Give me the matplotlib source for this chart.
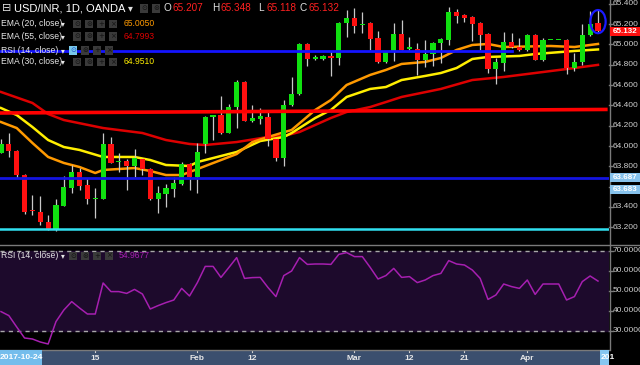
import matplotlib
matplotlib.use("Agg")
import matplotlib.pyplot as plt
from matplotlib.patches import Rectangle, Ellipse
from matplotlib.lines import Line2D
from matplotlib.transforms import blended_transform_factory

plt.rcParams['font.family'] = ['Liberation Sans', 'DejaVu Sans']

# ---------------- data ----------------
opens = [63.93, 64.02, 63.95, 63.71, 63.37, 63.35, 63.25, 63.18, 63.41, 63.59,
         63.74, 63.62, 63.48, 63.48, 64.02, 63.84, 63.85, 63.80, 63.87, 63.77,
         63.48, 63.53, 63.58, 63.63, 63.82, 63.69, 64.02, 64.29, 64.31, 64.13,
         64.38, 64.63, 64.25, 64.27, 64.29, 64.07, 63.88, 64.40, 64.51, 65.00,
         64.86, 64.86, 64.88, 64.87, 65.21, 65.26, 65.19, 65.21, 65.06, 64.83,
         64.93, 65.10, 64.96, 64.96, 64.85, 64.91, 65.01, 65.04, 65.32, 65.29,
         65.27, 65.21, 65.10, 64.76, 64.82, 65.02, 64.98, 64.95, 65.09, 64.85,
         65.04, 65.04, 65.04, 64.77, 64.83, 65.09, 65.207]
highs = [64.07, 64.13, 63.96, 63.72, 63.52, 63.51, 63.32, 63.48, 63.70, 63.81,
         63.78, 63.68, 63.59, 64.13, 64.09, 63.93, 63.87, 63.97, 63.88, 63.78,
         63.61, 63.63, 63.69, 63.84, 63.83, 64.03, 64.30, 64.30, 64.49, 64.41,
         64.65, 64.64, 64.40, 64.37, 64.33, 64.08, 64.45, 64.68, 65.01, 65.01,
         64.90, 64.90, 64.94, 65.22, 65.34, 65.36, 65.32, 65.22, 65.13, 64.94,
         65.21, 65.24, 65.07, 65.01, 65.04, 65.02, 65.06, 65.37, 65.35, 65.30,
         65.28, 65.22, 65.11, 64.87, 65.12, 65.11, 65.06, 65.10, 65.10, 65.06,
         65.045, 65.045, 65.05, 64.92, 65.20, 65.33, 65.348]
lows = [63.93, 63.89, 63.68, 63.33, 63.32, 63.22, 63.17, 63.16, 63.41, 63.54,
        63.57, 63.43, 63.29, 63.48, 63.83, 63.74, 63.57, 63.69, 63.71, 63.47,
        63.34, 63.40, 63.50, 63.62, 63.57, 63.54, 63.93, 64.06, 64.12, 64.13,
        64.18, 64.25, 64.24, 64.22, 64.00, 63.85, 63.80, 64.39, 64.50, 64.79,
        64.85, 64.85, 64.69, 64.80, 65.07, 65.11, 65.11, 64.95, 64.82, 64.82,
        64.84, 64.95, 64.95, 64.70, 64.78, 64.79, 64.82, 64.99, 65.21, 65.22,
        65.03, 64.95, 64.72, 64.61, 64.74, 64.97, 64.94, 64.94, 64.85, 64.84,
        65.04, 65.04, 64.71, 64.74, 64.80, 65.08, 65.118]
closes = [64.02, 63.95, 63.71, 63.35, 63.36, 63.25, 63.18, 63.42, 63.60, 63.74,
          63.61, 63.48, 63.49, 64.02, 63.83, 63.85, 63.80, 63.88, 63.77, 63.48,
          63.54, 63.59, 63.64, 63.82, 63.69, 63.94, 64.29, 64.30, 64.13, 64.38,
          64.63, 64.25, 64.28, 64.30, 64.07, 63.88, 64.40, 64.51, 65.00, 64.86,
          64.87, 64.89, 64.87, 65.21, 65.26, 65.18, 65.20, 65.05, 64.83, 64.93,
          65.10, 64.95, 64.97, 64.85, 64.91, 65.01, 65.05, 65.32, 65.28, 65.26,
          65.20, 65.09, 64.76, 64.83, 65.02, 64.98, 64.95, 65.09, 64.85, 65.04,
          65.045, 65.045, 64.77, 64.83, 65.09, 65.20, 65.132]

ema20_idx = [0, 2, 4, 6, 8, 10, 12, 13, 17, 19, 21, 23, 25, 30, 32, 34, 37, 40,
             42, 44, 47, 49, 51, 54, 56, 58, 60, 62, 64, 70, 73, 76]
ema20_val = [64.236, 64.177, 64.030, 63.892, 63.833, 63.793, 63.734, 63.764,
             63.783, 63.754, 63.714, 63.714, 63.773, 63.921, 64.039, 64.089,
             64.158, 64.355, 64.453, 64.601, 64.700, 64.749, 64.808, 64.828,
             64.867, 64.946, 64.995, 65.005, 64.975, 64.985, 64.975, 65.005]
ema30_idx = [0, 2, 4, 6, 8, 10, 13, 17, 19, 21, 24, 25, 30, 33, 36, 37, 40, 42,
             44, 47, 49, 51, 54, 56, 58, 60, 62, 66, 68, 73, 76]
ema30_val = [64.374, 64.305, 64.187, 64.059, 63.990, 63.961, 63.892, 63.892,
             63.862, 63.813, 63.803, 63.842, 63.941, 64.049, 64.089, 64.128,
             64.276, 64.355, 64.483, 64.562, 64.581, 64.650, 64.690, 64.719,
             64.768, 64.857, 64.877, 64.887, 64.906, 64.936, 64.951]
ema55_idx = [0, 4, 6, 8, 13, 18, 21, 24, 26, 30, 34, 36, 38, 40, 42, 44, 47, 49,
             51, 56, 60, 64, 68, 73, 76]
ema55_val = [64.532, 64.424, 64.315, 64.256, 64.177, 64.128, 64.059, 64.020,
             64.010, 64.039, 64.089, 64.099, 64.138, 64.207, 64.276, 64.335,
             64.384, 64.433, 64.483, 64.562, 64.650, 64.680, 64.719, 64.768,
             64.799]

rsi = [39.7, 37.7, 32.0, 26.5, 26.0, 24.5, 23.5, 34.7, 40.5, 44.7,
       41.5, 38.5, 38.5, 54.0, 49.7, 49.7, 48.8, 50.8, 48.5, 41.0,
       42.7, 44.2, 45.5, 51.3, 47.5, 54.2, 62.3, 62.3, 56.8, 61.7,
       66.7, 56.3, 56.7, 56.8, 51.7, 47.2, 57.7, 60.0, 66.7, 63.3,
       63.5, 63.5, 63.3, 68.3, 69.2, 67.2, 67.2, 61.8, 56.0, 57.7,
       61.3, 56.8, 57.2, 54.2, 55.5, 57.7, 58.8, 65.2, 63.5, 63.0,
       60.5, 56.3, 45.8, 48.0, 53.5, 52.2, 51.3, 55.5, 48.3, 53.5,
       53.5, 53.5, 45.5, 47.2, 54.7, 57.5, 54.97]

blue_top_level = 64.94
blue_top_end = 65.1
red_line_levels = [64.325, 64.36]
blue_level = 63.687
cyan_level = 63.18

price_ticks = [65.4, 65.2, 65.0, 64.8, 64.6, 64.4, 64.2, 64.0, 63.8, 63.6, 63.4, 63.2]
hidden_price_labels = [63.6]   # covered by the line-value boxes in the reference
rsi_ticks = [70, 60, 50, 40, 30]
date_tick_idx = [12, 25, 32, 45, 52, 59, 67]
date_tick_lab = ['15', 'Feb', '12', 'Mar', '12', '21', 'Apr']

legend_vals = ['65.0050', '64.7993', '64.9510']
rsi_last = '54.9677'

# ---------------- styling ----------------
GREEN = '#10e010'
RED = '#ff1010'
WICK = '#c8c8c8'
ORANGE = '#ff9900'
YELLOW = '#ffee00'
EMA_RED = '#dd0000'
LABEL = '#cfcfcf'
AXGRAY = '#7a7a7a'
RSI_FILL = '#1d0a2c'
RSI_LINE = '#a61fb0'

W, H = 640, 365
fig = plt.figure(figsize=(6.4, 3.65), dpi=100, facecolor='black')


def fx(px):
    return px / W


def fy(py):
    return 1 - py / H


PANE_R = 609
XL = (-1 / 7.855, (PANE_R - 1) / 7.855)

ax = fig.add_axes([0, fy(245), fx(PANE_R), 245 / H])
rax = fig.add_axes([0, fy(350), fx(PANE_R), (350 - 246) / H])
dax = fig.add_axes([0, 0, fx(PANE_R), 15 / H])
for a in (ax, rax, dax):
    a.set_facecolor('black')
    for s in a.spines.values():
        s.set_visible(False)
    a.set_xticks([])
    a.set_yticks([])
    a.set_xlim(*XL)

ax.set_ylim(63.025, 65.438)
rax.set_ylim(20.5, 72.5)
dax.set_ylim(0, 1)
dax.set_facecolor('#3b4f6e')

n = len(closes)

# EMAs
ax.plot(ema55_idx, ema55_val, color=EMA_RED, lw=1.8, zorder=2)
ax.plot(ema30_idx, ema30_val, color=YELLOW, lw=1.8, zorder=2)
ax.plot(ema20_idx, ema20_val, color=ORANGE, lw=1.8, zorder=2)

# candles
for i in range(n):
    o, h, l, c = opens[i], highs[i], lows[i], closes[i]
    col = GREEN if c >= o else RED
    ax.vlines(i, l, h, color=WICK, lw=0.9, zorder=3)
    b = min(o, c)
    hgt = max(abs(c - o), 0.012)
    ax.bar(i, hgt, 0.66, bottom=b, color=col, linewidth=0, zorder=4)

# drawings
ax.plot([XL[0], blue_top_end], [blue_top_level, blue_top_level], color='#1414ff', lw=2, zorder=5)
ax.plot([XL[0], 77.0], red_line_levels, color='#ff0000', lw=2.6, zorder=5)
ax.axhline(blue_level, color='#1414e0', lw=2, zorder=5)
ax.axhline(cyan_level, color='#30e0f0', lw=1.8, zorder=5)
ax.add_patch(Ellipse((n - 1, 65.225), 1.95, 0.228, fill=False, edgecolor='#1a1aff',
                     lw=1.6, zorder=6))

# RSI
rax.axhspan(30, 70, color=RSI_FILL, zorder=1)
for lv in (70, 30):
    rax.axhline(lv, color='#a8a8a8', lw=1, ls=(0, (3, 3)), zorder=2)
rax.plot(range(n), rsi, color=RSI_LINE, lw=1.1, zorder=3)

# frame lines
fig.add_artist(Line2D([fx(PANE_R + 0.5)] * 2, [fy(0), fy(350)], color=AXGRAY, lw=1))
fig.add_artist(Line2D([0, 1], [fy(245)] * 2, color=AXGRAY, lw=1))
fig.add_artist(Line2D([0, fx(PANE_R)], [fy(350)] * 2, color=AXGRAY, lw=1))

# right price axis
tp = blended_transform_factory(fig.transFigure, ax.transData)
for v in price_ticks:
    fig.add_artist(Line2D([fx(PANE_R), fx(PANE_R + 4)], [v, v], color=AXGRAY, lw=1,
                          transform=tp))
    if v in hidden_price_labels:
        continue
    ax.text(fx(613), v, f'{v:.3f}', transform=tp, color=LABEL, fontsize=6,
            va='center', ha='left', clip_on=False)


def pbox(yc, txt, fc):
    fig.add_artist(Rectangle((fx(PANE_R + 1), fy(yc + 4.5)), (W - PANE_R - 1) / W, 9 / H,
                             transform=fig.transFigure, facecolor=fc, edgecolor='none',
                             zorder=10))
    fig.text(fx(613), fy(yc), txt, color='white', fontsize=5.8, va='center', ha='left',
             zorder=11, weight='bold')


pbox(31.5, f'{closes[-1]:.3f}', '#ff1010')
pbox(177.5, f'{blue_level:.3f}', '#86c2ec')
pbox(189.5, '63.683', '#86c2ec')

# right RSI axis
tr = blended_transform_factory(fig.transFigure, rax.transData)
for v in rsi_ticks:
    fig.add_artist(Line2D([fx(PANE_R), fx(PANE_R + 4)], [v, v], color=AXGRAY, lw=1,
                          transform=tr))
    rax.text(fx(613), v, f'{v:.4f}', transform=tr, color=LABEL, fontsize=6,
             va='center', ha='left', clip_on=False)

# date axis
for xi, lab in zip(date_tick_idx, date_tick_lab):
    dax.plot([xi, xi], [0.88, 1.0], color='#d0d0d0', lw=0.8)
    dax.text(xi, 0.42, lab, color='#e8e8e8', fontsize=6, ha='center', va='center',
             weight='bold')
fig.add_artist(Rectangle((0, 0), fx(42), 15 / H, transform=fig.transFigure,
                         facecolor='#74bdec', edgecolor='none', zorder=5))
fig.text(fx(21), fy(357.5), '2017-10-24', color='white', fontsize=6, ha='center',
         va='center', weight='bold', zorder=6)
fig.add_artist(Rectangle((fx(600), 0), fx(9), 15 / H, transform=fig.transFigure,
                         facecolor='#86c6f0', edgecolor='none', zorder=5))
fig.text(fx(600.5), fy(357.5), '201', color='white', fontsize=6, ha='left',
         va='center', weight='bold', zorder=6)

# header and legend
SYMS = ['\u2299', '\u229b', '+', '\u00d7']


def icons(x0, yc, count=4, highlight=False, step=12, size=8):
    for k in range(count):
        fc = '#78c8ea' if (highlight and k == 0) else '#3a3a3a'
        sc = '#1e50c8' if (highlight and k == 0) else '#121212'
        fig.add_artist(Rectangle((fx(x0 + k * step), fy(yc + size / 2)), size / W, size / H,
                                 transform=fig.transFigure, facecolor=fc,
                                 edgecolor='none', zorder=8))
        fig.text(fx(x0 + k * step + size / 2), fy(yc), SYMS[k % 4], color=sc,
                 fontsize=5, ha='center', va='center', zorder=9,
                 family=['DejaVu Sans'])


fig.text(fx(2), fy(8), '\u229f', color='#e0e0e0', fontsize=8, va='center', ha='left',
         family=['DejaVu Sans'])
fig.text(fx(14), fy(8.3), 'USD/INR, 1D, OANDA', color='white', fontsize=8, va='center',
         ha='left')
fig.text(fx(128), fy(8), '\u25be', color='#e0e0e0', fontsize=7, va='center', ha='left',
         family=['DejaVu Sans'])
icons(140, 8.5, count=2)
ohlc = [('O', opens[-1], 164), ('H', highs[-1], 212), ('L', lows[-1], 258),
        ('C', closes[-1], 300)]
for letter, val, x0 in ohlc:
    fig.text(fx(x0), fy(8.3), letter, color='#e0e0e0', fontsize=7.2, va='center',
             ha='left')
    fig.text(fx(x0 + 8.5), fy(8.3), f'{val:.3f}', color='#ff2020', fontsize=7.2,
             va='center', ha='left')

legend_rows = [('EMA (20, close)', legend_vals[0], ORANGE, 24),
               ('EMA (55, close)', legend_vals[1], EMA_RED, 36.5),
               ('RSI (14, close)', None, None, 50.5),
               ('EMA (30, close)', legend_vals[2], YELLOW, 62)]
for name, val, col, yc in legend_rows:
    fig.text(fx(1), fy(yc), name, color='#e6e6e6', fontsize=6.2, va='center', ha='left',
             zorder=9)
    fig.text(fx(61), fy(yc), '\u25be', color='#e6e6e6', fontsize=5.5, va='center',
             ha='left', family=['DejaVu Sans'], zorder=9)
    icons(73 if val else 69, yc, highlight=(val is None))
    if val:
        fig.text(fx(124), fy(yc), val, color=col, fontsize=6.2, va='center', ha='left',
                 zorder=9)

fig.text(fx(1), fy(255.5), 'RSI (14, close)', color='#e6e6e6', fontsize=6.2,
         va='center', ha='left', zorder=9)
fig.text(fx(61), fy(255.5), '\u25be', color='#e6e6e6', fontsize=5.5, va='center',
         ha='left', family=['DejaVu Sans'], zorder=9)
icons(69, 255.5)
fig.text(fx(119), fy(255.5), rsi_last, color=RSI_LINE, fontsize=6.2, va='center',
         ha='left', zorder=9)

fig.savefig('out.png', dpi=100, facecolor='black')
